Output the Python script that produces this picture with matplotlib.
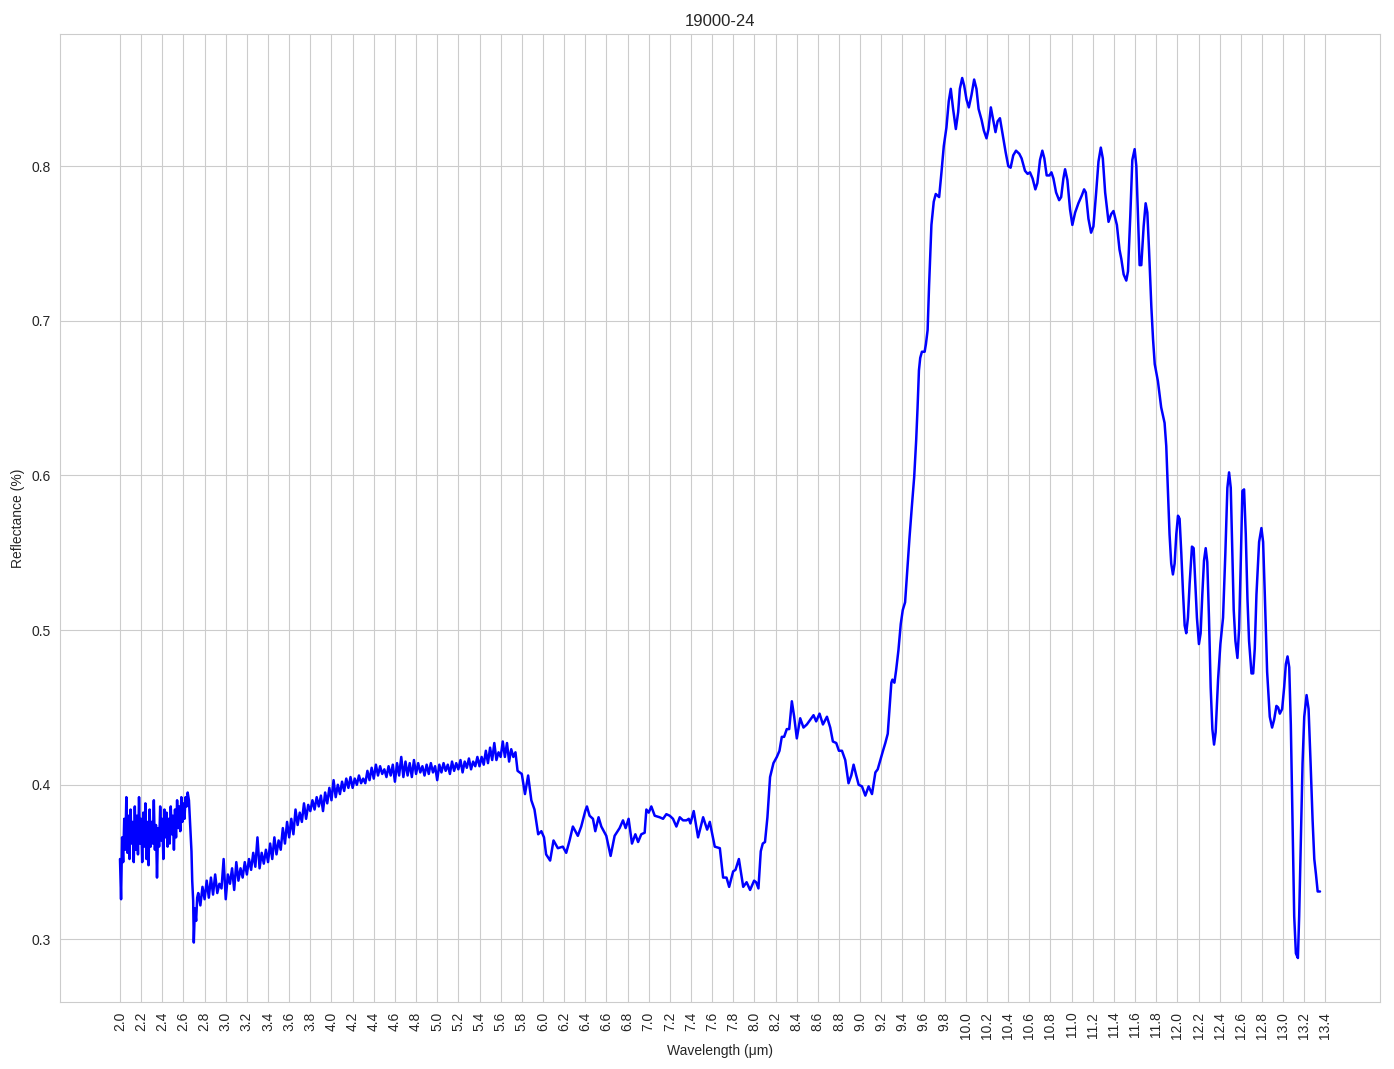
import numpy as np
import matplotlib
matplotlib.use("Agg")
import matplotlib.pyplot as plt
import seaborn as sns

# ---------------- data ----------------
title = "19000-24"
x_label = "Wavelength (μm)"
y_label = "Reflectance (%)"

# noisy short-wave segment 2.00 - 2.64 um
noise_a_wl = [2.00, 2.01, 2.02, 2.03, 2.04, 2.05, 2.06, 2.07, 2.08, 2.09,
              2.10, 2.11, 2.12, 2.13, 2.14, 2.15, 2.16, 2.17, 2.18, 2.19,
              2.20, 2.21, 2.22, 2.23, 2.24, 2.25, 2.26, 2.27, 2.28, 2.29,
              2.30, 2.31, 2.32, 2.33, 2.34, 2.35, 2.36, 2.37, 2.38, 2.39,
              2.40, 2.41, 2.42, 2.43, 2.44, 2.45, 2.46, 2.47, 2.48, 2.49,
              2.50, 2.51, 2.52, 2.53, 2.54, 2.55, 2.56, 2.57, 2.58, 2.59,
              2.60, 2.61, 2.62, 2.63, 2.64]
noise_a_refl = [0.352, 0.326, 0.366, 0.350, 0.378, 0.358, 0.392, 0.356, 0.380, 0.352,
                0.384, 0.362, 0.376, 0.350, 0.386, 0.358, 0.380, 0.355, 0.392, 0.362,
                0.378, 0.350, 0.382, 0.360, 0.388, 0.352, 0.376, 0.348, 0.384, 0.360,
                0.376, 0.362, 0.390, 0.358, 0.374, 0.340, 0.372, 0.360, 0.386, 0.364,
                0.378, 0.352, 0.384, 0.366, 0.382, 0.360, 0.378, 0.362, 0.386, 0.368,
                0.380, 0.358, 0.384, 0.366, 0.390, 0.372, 0.386, 0.370, 0.392, 0.376,
                0.388, 0.378, 0.392, 0.386, 0.395]

# sharp drop near 2.7 um
drop_wl = [2.652, 2.665, 2.676, 2.683, 2.692, 2.698, 2.708, 2.720, 2.730]
drop_refl = [0.390, 0.372, 0.357, 0.338, 0.325, 0.298, 0.320, 0.312, 0.327]

# noisy rising segment 2.74 - 5.76 um
noise_b_wl = [2.74, 2.76, 2.78, 2.80, 2.82, 2.84, 2.86, 2.88, 2.90, 2.92,
              2.94, 2.96, 2.98, 3.00, 3.02, 3.04, 3.06, 3.08, 3.10, 3.12,
              3.14, 3.16, 3.18, 3.20, 3.22, 3.24, 3.26, 3.28, 3.30, 3.32,
              3.34, 3.36, 3.38, 3.40, 3.42, 3.44, 3.46, 3.48, 3.50, 3.52,
              3.54, 3.56, 3.58, 3.60, 3.62, 3.64, 3.66, 3.68, 3.70, 3.72,
              3.74, 3.76, 3.78, 3.80, 3.82, 3.84, 3.86, 3.88, 3.90, 3.92,
              3.94, 3.96, 3.98, 4.00, 4.02, 4.04, 4.06, 4.08, 4.10, 4.12,
              4.14, 4.16, 4.18, 4.20, 4.22, 4.24, 4.26, 4.28, 4.30, 4.32,
              4.34, 4.36, 4.38, 4.40, 4.42, 4.44, 4.46, 4.48, 4.50, 4.52,
              4.54, 4.56, 4.58, 4.60, 4.62, 4.64, 4.66, 4.68, 4.70, 4.72,
              4.74, 4.76, 4.78, 4.80, 4.82, 4.84, 4.86, 4.88, 4.90, 4.92,
              4.94, 4.96, 4.98, 5.00, 5.02, 5.04, 5.06, 5.08, 5.10, 5.12,
              5.14, 5.16, 5.18, 5.20, 5.22, 5.24, 5.26, 5.28, 5.30, 5.32,
              5.34, 5.36, 5.38, 5.40, 5.42, 5.44, 5.46, 5.48, 5.50, 5.52,
              5.54, 5.56, 5.58, 5.60, 5.62, 5.64, 5.66, 5.68, 5.70, 5.72,
              5.74, 5.76]
noise_b_refl = [0.330, 0.322, 0.334, 0.326, 0.338, 0.327, 0.340, 0.329, 0.342, 0.330,
                0.336, 0.333, 0.352, 0.326, 0.342, 0.336, 0.346, 0.332, 0.350, 0.338,
                0.346, 0.340, 0.350, 0.342, 0.352, 0.345, 0.356, 0.347, 0.366, 0.346,
                0.356, 0.349, 0.358, 0.350, 0.362, 0.352, 0.366, 0.355, 0.364, 0.358,
                0.372, 0.362, 0.376, 0.366, 0.378, 0.368, 0.384, 0.374, 0.382, 0.376,
                0.388, 0.378, 0.387, 0.383, 0.390, 0.384, 0.392, 0.386, 0.393, 0.383,
                0.395, 0.388, 0.398, 0.390, 0.403, 0.392, 0.400, 0.394, 0.402, 0.396,
                0.404, 0.398, 0.405, 0.398, 0.404, 0.400, 0.406, 0.401, 0.404, 0.401,
                0.409, 0.403, 0.411, 0.404, 0.413, 0.406, 0.412, 0.407, 0.410, 0.405,
                0.412, 0.406, 0.413, 0.402, 0.414, 0.406, 0.418, 0.405, 0.415, 0.406,
                0.414, 0.405, 0.416, 0.407, 0.414, 0.408, 0.412, 0.406, 0.413, 0.407,
                0.414, 0.408, 0.412, 0.403, 0.413, 0.408, 0.414, 0.409, 0.413, 0.407,
                0.415, 0.409, 0.414, 0.410, 0.416, 0.408, 0.415, 0.411, 0.417, 0.410,
                0.415, 0.412, 0.418, 0.412, 0.418, 0.413, 0.422, 0.414, 0.424, 0.416,
                0.427, 0.416, 0.421, 0.418, 0.428, 0.418, 0.427, 0.415, 0.423, 0.418,
                0.421, 0.409]

# smoother long-wave segment 5.80 - 13.35 um
smooth_wl = [5.800, 5.830, 5.860, 5.890, 5.920, 5.955, 5.985, 6.010, 6.030, 6.068,
             6.100, 6.141, 6.188, 6.220, 6.252, 6.283, 6.330, 6.362, 6.400, 6.416,
             6.441, 6.473, 6.495, 6.526, 6.552, 6.599, 6.640, 6.678, 6.725, 6.757,
             6.782, 6.810, 6.842, 6.874, 6.900, 6.930, 6.962, 6.978, 7.000, 7.025,
             7.057, 7.104, 7.136, 7.167, 7.199, 7.230, 7.262, 7.294, 7.325, 7.357,
             7.379, 7.395, 7.426, 7.467, 7.515, 7.553, 7.578, 7.625, 7.673, 7.704,
             7.736, 7.761, 7.799, 7.821, 7.853, 7.894, 7.926, 7.959, 7.997, 8.016,
             8.038, 8.060, 8.079, 8.100, 8.123, 8.148, 8.180, 8.212, 8.237, 8.259,
             8.281, 8.306, 8.329, 8.354, 8.376, 8.401, 8.433, 8.464, 8.496, 8.528,
             8.559, 8.584, 8.616, 8.648, 8.686, 8.717, 8.742, 8.774, 8.799, 8.828,
             8.859, 8.890, 8.916, 8.938, 8.963, 8.986, 9.017, 9.049, 9.080, 9.112,
             9.144, 9.166, 9.191, 9.216, 9.238, 9.261, 9.280, 9.295, 9.305, 9.324,
             9.340, 9.362, 9.384, 9.403, 9.425, 9.441, 9.467, 9.489, 9.511, 9.530,
             9.543, 9.556, 9.568, 9.584, 9.610, 9.622, 9.638, 9.652, 9.674, 9.696,
             9.715, 9.747, 9.769, 9.791, 9.816, 9.838, 9.857, 9.879, 9.905, 9.927,
             9.943, 9.965, 9.984, 10.006, 10.028, 10.053, 10.078, 10.100, 10.120, 10.148,
             10.170, 10.195, 10.214, 10.236, 10.258, 10.280, 10.300, 10.322, 10.347, 10.376,
             10.401, 10.423, 10.448, 10.474, 10.505, 10.527, 10.559, 10.584, 10.606, 10.631,
             10.657, 10.676, 10.701, 10.723, 10.742, 10.764, 10.790, 10.809, 10.828, 10.853,
             10.882, 10.901, 10.922, 10.938, 10.960, 10.985, 11.007, 11.033, 11.064, 11.096,
             11.118, 11.134, 11.159, 11.184, 11.206, 11.232, 11.254, 11.276, 11.295, 11.317,
             11.349, 11.374, 11.396, 11.428, 11.453, 11.470, 11.492, 11.517, 11.533, 11.555,
             11.574, 11.596, 11.612, 11.627, 11.643, 11.659, 11.681, 11.700, 11.716, 11.732,
             11.754, 11.770, 11.786, 11.816, 11.847, 11.879, 11.895, 11.910, 11.926, 11.942,
             11.958, 11.974, 11.990, 12.006, 12.021, 12.037, 12.053, 12.069, 12.084, 12.100,
             12.116, 12.138, 12.154, 12.170, 12.185, 12.204, 12.220, 12.236, 12.252, 12.268,
             12.283, 12.299, 12.315, 12.331, 12.347, 12.362, 12.385, 12.407, 12.432, 12.454,
             12.473, 12.489, 12.505, 12.517, 12.533, 12.549, 12.568, 12.584, 12.600, 12.615,
             12.631, 12.647, 12.663, 12.678, 12.701, 12.717, 12.732, 12.748, 12.773, 12.795,
             12.811, 12.827, 12.849, 12.874, 12.896, 12.915, 12.937, 12.953, 12.969, 12.991,
             13.010, 13.026, 13.042, 13.058, 13.073, 13.089, 13.105, 13.121, 13.140, 13.152,
             13.168, 13.184, 13.200, 13.222, 13.241, 13.260, 13.279, 13.295, 13.311, 13.327,
             13.349]
smooth_refl = [0.407, 0.394, 0.406, 0.390, 0.384, 0.368, 0.370, 0.366, 0.355, 0.351,
               0.364, 0.359, 0.360, 0.356, 0.364, 0.373, 0.367, 0.373, 0.383, 0.386,
               0.380, 0.378, 0.370, 0.379, 0.373, 0.367, 0.354, 0.367, 0.372, 0.377,
               0.372, 0.378, 0.362, 0.368, 0.363, 0.368, 0.369, 0.384, 0.382, 0.386,
               0.380, 0.379, 0.378, 0.381, 0.380, 0.378, 0.373, 0.379, 0.377, 0.377,
               0.378, 0.375, 0.383, 0.366, 0.379, 0.371, 0.376, 0.360, 0.359, 0.340,
               0.340, 0.334, 0.344, 0.345, 0.352, 0.334, 0.337, 0.332, 0.338, 0.337,
               0.333, 0.357, 0.362, 0.363, 0.379, 0.405, 0.414, 0.418, 0.422, 0.431,
               0.431, 0.436, 0.436, 0.454, 0.444, 0.430, 0.443, 0.437, 0.439, 0.442,
               0.445, 0.441, 0.446, 0.439, 0.444, 0.437, 0.428, 0.427, 0.422, 0.422,
               0.416, 0.401, 0.406, 0.413, 0.406, 0.400, 0.399, 0.393, 0.399, 0.394,
               0.408, 0.410, 0.416, 0.422, 0.427, 0.433, 0.452, 0.466, 0.468, 0.466,
               0.474, 0.487, 0.504, 0.513, 0.518, 0.534, 0.560, 0.580, 0.599, 0.623,
               0.644, 0.668, 0.676, 0.680, 0.680, 0.685, 0.694, 0.723, 0.762, 0.777,
               0.782, 0.780, 0.796, 0.813, 0.825, 0.842, 0.850, 0.837, 0.824, 0.835,
               0.850, 0.857, 0.852, 0.843, 0.838, 0.846, 0.856, 0.850, 0.837, 0.830,
               0.823, 0.818, 0.824, 0.838, 0.830, 0.822, 0.829, 0.831, 0.821, 0.809,
               0.800, 0.799, 0.807, 0.810, 0.808, 0.805, 0.797, 0.795, 0.796, 0.792,
               0.785, 0.789, 0.804, 0.810, 0.805, 0.794, 0.794, 0.796, 0.792, 0.783,
               0.778, 0.780, 0.792, 0.798, 0.791, 0.772, 0.762, 0.770, 0.776, 0.781,
               0.785, 0.783, 0.766, 0.757, 0.761, 0.783, 0.803, 0.812, 0.805, 0.783,
               0.764, 0.769, 0.771, 0.762, 0.746, 0.740, 0.730, 0.726, 0.732, 0.768,
               0.804, 0.811, 0.800, 0.768, 0.736, 0.736, 0.761, 0.776, 0.770, 0.746,
               0.709, 0.688, 0.672, 0.661, 0.644, 0.634, 0.619, 0.592, 0.562, 0.543,
               0.536, 0.543, 0.562, 0.574, 0.572, 0.550, 0.525, 0.503, 0.498, 0.508,
               0.530, 0.554, 0.553, 0.530, 0.508, 0.491, 0.498, 0.523, 0.545, 0.553,
               0.544, 0.508, 0.463, 0.436, 0.426, 0.434, 0.468, 0.491, 0.508, 0.550,
               0.592, 0.602, 0.592, 0.557, 0.513, 0.493, 0.482, 0.501, 0.545, 0.590,
               0.591, 0.562, 0.520, 0.493, 0.472, 0.472, 0.488, 0.523, 0.557, 0.566,
               0.557, 0.523, 0.473, 0.444, 0.437, 0.442, 0.451, 0.450, 0.446, 0.449,
               0.463, 0.478, 0.483, 0.476, 0.439, 0.377, 0.315, 0.291, 0.288, 0.315,
               0.364, 0.414, 0.444, 0.458, 0.449, 0.414, 0.377, 0.352, 0.342, 0.331,
               0.331]

# x tick labels 2.0 ... 13.4
xtick_values = [round(2.0 + 0.2 * i, 1) for i in range(58)]
xtick_labels = [f"{v:.1f}" for v in xtick_values]

# ---------------- plotting ----------------
sns.set_style("whitegrid")
plt.rcParams["font.family"] = ["Liberation Sans", "DejaVu Sans"]

wl = np.concatenate([noise_a_wl, drop_wl, noise_b_wl, smooth_wl])
refl = np.concatenate([noise_a_refl, drop_refl, noise_b_refl, smooth_refl])

fig = plt.figure(figsize=(13.94, 10.69), dpi=100)
ax = fig.add_axes([60 / 1394, 1 - 1002 / 1069, (1380 - 60) / 1394, (1002 - 34) / 1069])
ax.plot(wl, refl, color="blue", linewidth=1.8)

ax.set_xticks(xtick_values)
ax.set_xticklabels(xtick_labels, rotation=90)
ax.set_title(title, fontsize=12)
ax.set_xlabel(x_label)
ax.set_ylabel(y_label)

fig.savefig("out.png", dpi=100)
